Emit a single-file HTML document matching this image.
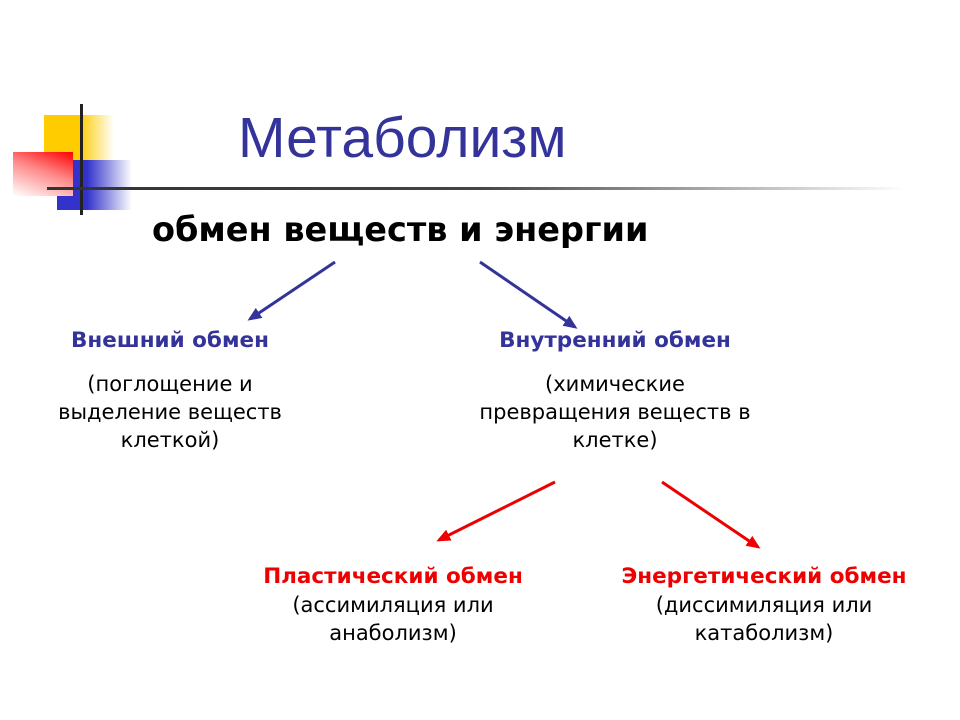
<!DOCTYPE html>
<html><head><meta charset="utf-8"><style>
body{margin:0;width:960px;height:720px;background:#fff;position:relative;overflow:hidden;font-family:"DejaVu Sans","Liberation Sans",sans-serif}
.a{position:absolute}
.t{position:absolute;text-align:center;font-size:21px;line-height:28px;color:#000;white-space:nowrap}
.b{font-weight:bold}
</style></head><body>
<div class="a" style="left:44px;top:115px;width:70px;height:46px;background:linear-gradient(90deg,#ffcc00 0%,#ffcc00 50%,#fff 100%)"></div>
<div class="a" style="left:57px;top:160px;width:75px;height:50px;background:linear-gradient(90deg,#3333cc 0%,#3333cc 40%,#fff 100%)"></div>
<div class="a" style="left:13px;top:152px;width:60px;height:44px;background:linear-gradient(200deg,#ff0000 0%,#ff8888 45%,#fff 100%)"></div>
<div class="a" style="left:80px;top:104px;width:3px;height:111px;background:#222"></div>
<div class="a" style="left:47px;top:187px;width:860px;height:3px;background:linear-gradient(90deg,#333 0%,#444 50%,#fff 100%)"></div>
<div class="a" style="left:238px;top:102px;font-size:57px;color:#333399;line-height:72px;font-family:'Liberation Sans',sans-serif">Метаболизм</div>
<div class="a b" style="left:152px;top:210px;font-size:33.5px;line-height:40px;white-space:nowrap">обмен веществ и энергии</div>
<svg class="a" style="left:0;top:0" width="960" height="720">
<defs>
<marker id="mb" markerWidth="14" markerHeight="12" refX="11" refY="6" orient="auto" markerUnits="userSpaceOnUse"><path d="M0,0 L14,6 L0,12 z" fill="#333399"/></marker>
<marker id="mr" markerWidth="14" markerHeight="12" refX="11" refY="6" orient="auto" markerUnits="userSpaceOnUse"><path d="M0,0 L14,6 L0,12 z" fill="#ee0000"/></marker>
</defs>
<g stroke-width="3">
<line x1="335" y1="262" x2="250" y2="319" stroke="#333399" marker-end="url(#mb)"/>
<line x1="480" y1="262" x2="575" y2="327" stroke="#333399" marker-end="url(#mb)"/>
<line x1="555" y1="482" x2="439" y2="540" stroke="#ee0000" marker-end="url(#mr)"/>
<line x1="662" y1="482" x2="758" y2="547" stroke="#ee0000" marker-end="url(#mr)"/>
</g></svg>
<div class="t b" style="left:40px;width:260px;top:327px;color:#333399;font-size:21.5px">Внешний обмен</div>
<div class="t" style="left:40px;width:260px;top:370px">(поглощение и<br>выделение веществ<br>клеткой)</div>
<div class="t b" style="left:460px;width:310px;top:327px;color:#333399;font-size:21.5px">Внутренний обмен</div>
<div class="t" style="left:460px;width:310px;top:370px">(химические<br>превращения веществ в<br>клетке)</div>
<div class="t b" style="left:233px;width:320px;top:563px;color:#ee0000;font-size:21.5px">Пластический обмен</div>
<div class="t" style="left:243px;width:300px;top:591px">(ассимиляция или<br>анаболизм)</div>
<div class="t b" style="left:594px;width:340px;top:563px;color:#ee0000;font-size:21.5px">Энергетический обмен</div>
<div class="t" style="left:604px;width:320px;top:591px">(диссимиляция или<br>катаболизм)</div>
</body></html>
